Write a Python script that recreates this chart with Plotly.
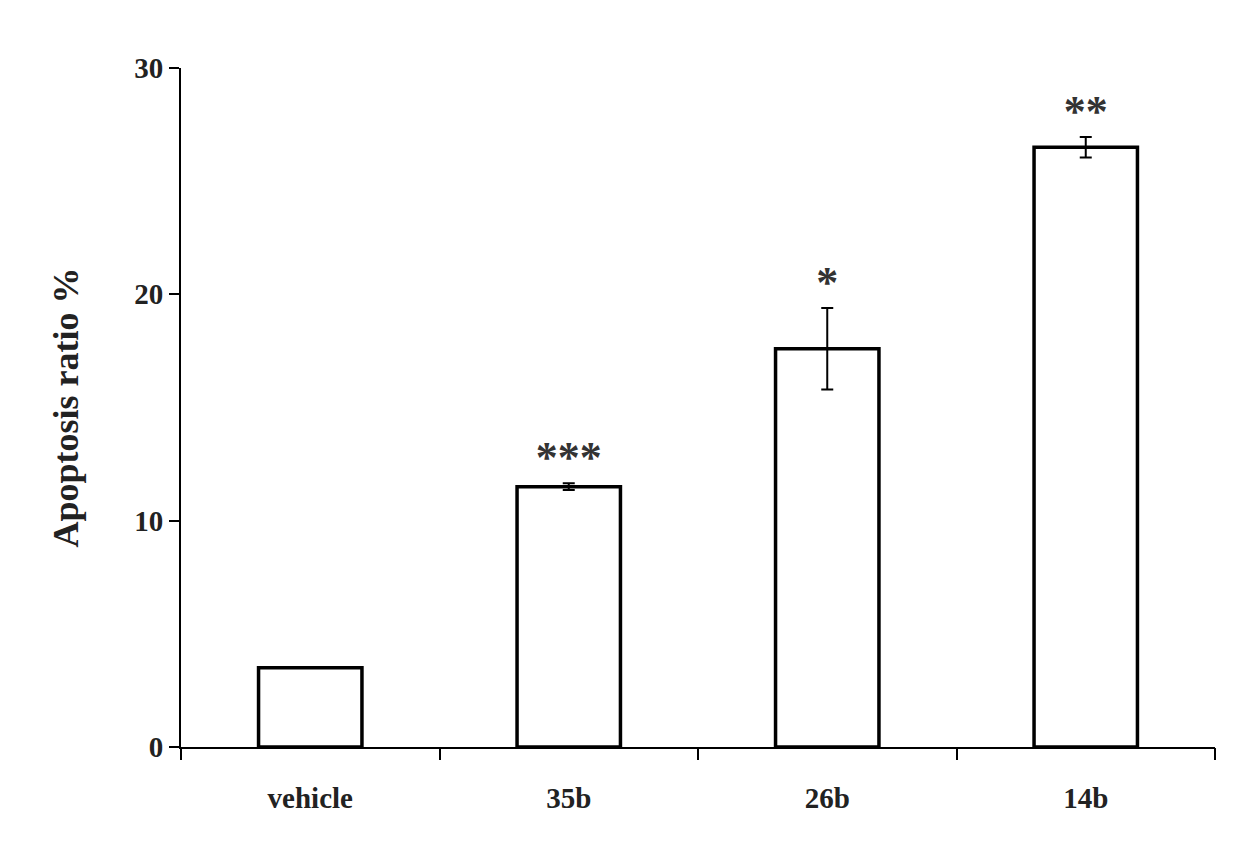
import plotly.graph_objects as go

categories = ["vehicle", "35b", "26b", "14b"]
values = [3.5, 11.5, 17.6, 26.5]
errors = [0.0, 0.15, 1.8, 0.45]
stars = ["", "***", "*", "**"]

xpos = [i + 0.5 for i in range(len(categories))]
font = "Liberation Serif"

fig = go.Figure()
fig.add_trace(go.Bar(
    x=xpos, y=values, width=0.4,
    marker=dict(color="white", line=dict(color="black", width=3.5)),
    error_y=dict(type="data", array=errors, visible=True, color="black", thickness=2, width=6),
))
fig.add_trace(go.Scatter(
    x=xpos, y=[v + e for v, e in zip(values, errors)], mode="text",
    text=["<b>%s</b>" % s for s in stars], textposition="top center",
    textfont=dict(family=font, size=44, color="#333"),
))
fig.add_trace(go.Scatter(x=[0], y=[0], xaxis="x2", mode="markers", marker=dict(opacity=0), hoverinfo="skip"))

fig.update_layout(
    width=1249, height=843, showlegend=False,
    plot_bgcolor="white", paper_bgcolor="white",
    margin=dict(l=173, r=42, t=60, b=104),
    font=dict(family=font, color="#222"),
    xaxis=dict(range=[0, 4], tickvals=xpos, ticktext=categories, ticks="",
               showline=True, linecolor="black", linewidth=2, showgrid=False, zeroline=False,
               tickfont=dict(size=29, family=font, color="#222", weight="bold"), ticklabelstandoff=24),
    xaxis2=dict(range=[0, 4], overlaying="x", tickvals=[0, 1, 2, 3, 4], ticktext=[""] * 5,
                ticks="outside", ticklen=12, tickwidth=1.5, tickcolor="black",
                showgrid=False, zeroline=False, side="bottom", anchor="y"),
    yaxis=dict(range=[0, 30], tickvals=[0, 10, 20, 30], ticks="outside", ticklen=10,
               tickwidth=1.5, tickcolor="black", showline=True, linecolor="black", linewidth=2,
               showgrid=False, zeroline=False,
               tickfont=dict(size=29, family=font, color="#222", weight="bold"),
               title=dict(text="<b>Apoptosis ratio %</b>", font=dict(size=36, family=font, color="#222"), standoff=45)),
)
fig.write_html("out.html")
